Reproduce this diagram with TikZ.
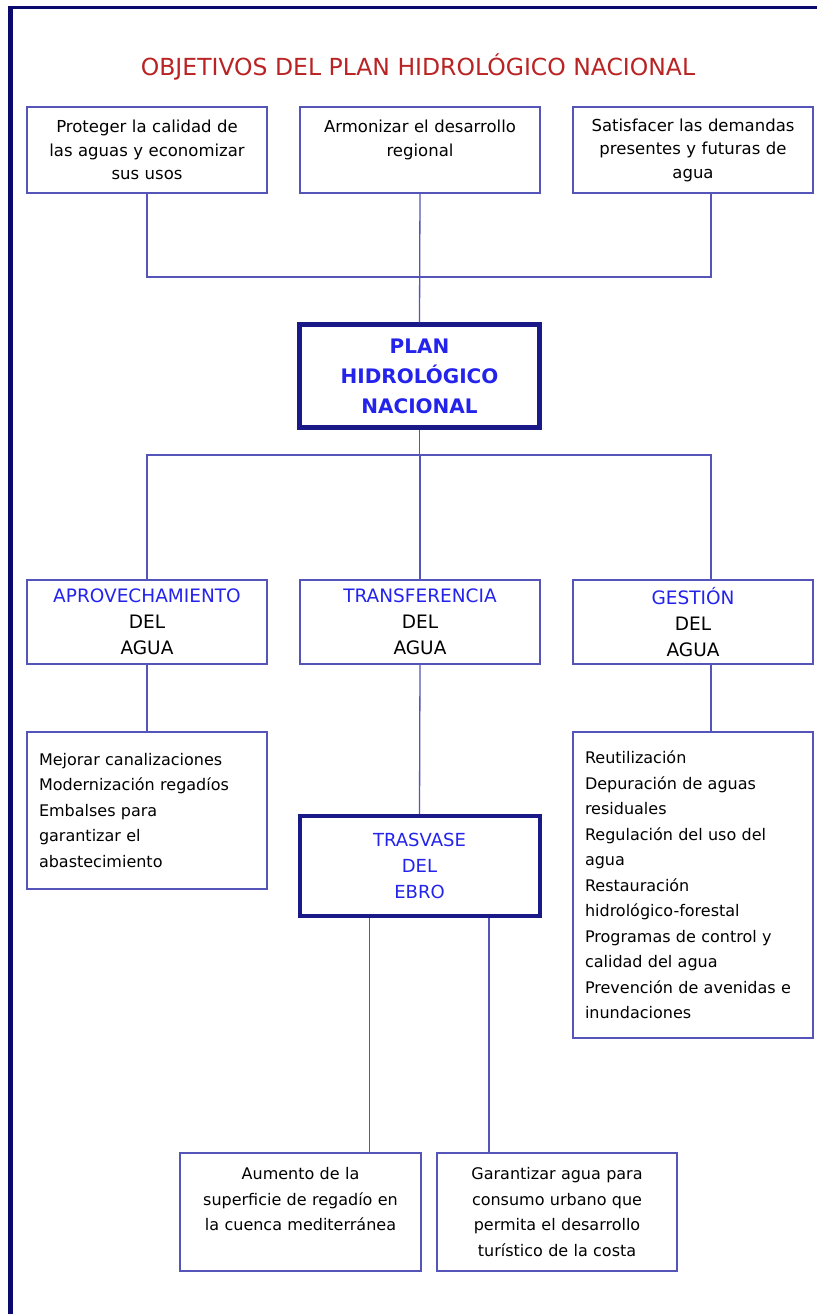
\documentclass[tikz,border=0pt]{standalone}
\usepackage{fontspec}
\setmainfont{DejaVu Sans}
\usepackage{tikz}
\usetikzlibrary{positioning}
\definecolor{framenavy}{RGB}{10,10,110}
\definecolor{boxblue}{RGB}{85,85,185}
\definecolor{heavyblue}{RGB}{25,25,135}
\definecolor{titlered}{RGB}{185,35,35}
\definecolor{textblue}{RGB}{35,35,235}

\begin{document}
\begin{tikzpicture}[x=1pt,y=-1pt,
  box/.style={draw=boxblue, line width=1.5pt, minimum width=240pt,
    inner xsep=8pt, text width=224pt, align=center,
    font=\fontsize{16}{25.5}\selectfont},
  listbox/.style={box, align=left, inner xsep=12pt, text width=216pt},
  heavybox/.style={draw=heavyblue, line width=4.5pt, minimum width=240pt,
    align=center, text=textblue},
  conn/.style={draw=boxblue, line width=1.3pt}]
\useasboundingbox (0,0) rectangle (817,1314);
% Frame
\draw[framenavy, line width=5pt] (10.5,1314) -- (10.5,5.75);
\draw[framenavy, line width=3.5pt] (8,7.5) -- (817,7.5);
% Title
\node[titlered, font=\fontsize{23.5}{27}\selectfont] (title) at (418,67)
  {OBJETIVOS DEL PLAN HIDROLÓGICO NACIONAL};
% Objectives
\node[box, minimum height=86pt, font=\fontsize{16.5}{23.5}\selectfont] (o1) at (147,150)
  {Proteger la calidad de\\las aguas y economizar\\sus usos};
\node[box, minimum height=86pt, font=\fontsize{16.5}{23.5}\selectfont] (o2) at (420,150)
  {Armonizar el desarrollo\\regional\\\mbox{}};
\node[box, minimum height=86pt, font=\fontsize{16.5}{23.5}\selectfont] (o3) at (693,150)
  {Satisfacer las demandas\\presentes y futuras de\\agua};
% The plan
\node[heavybox, minimum height=103pt, font=\bfseries\fontsize{20}{30}\selectfont]
  (plan) at (419.5,376) {PLAN\\HIDROLÓGICO\\NACIONAL};
% Three lines of action
\foreach \n/\x/\t in {ap/147/APROVECHAMIENTO, tr/420/TRANSFERENCIA, ge/693/GESTIÓN} {
  \node[box, minimum height=84pt, font=\fontsize{18.5}{26}\selectfont] (\n) at (\x,622)
    {{\color{textblue}\t}\\DEL\\AGUA};
}
\node[listbox, minimum height=157pt] (lista) at (147,810.5)
  {Mejorar canalizaciones\\Modernización regadíos\\Embalses para\\garantizar el\\abastecimiento};
\node[heavybox, line width=4pt, minimum height=100pt, font=\fontsize{18}{26}\selectfont]
  (trasvase) at (419.5,866) {TRASVASE\\DEL\\EBRO};
\node[listbox, minimum height=306pt] (listg) at (693,885)
  {Reutilización\\Depuración de aguas\\residuales\\Regulación del uso del\\agua\\Restauración\\hidrológico-forestal\\Programas de control y\\calidad del agua\\Prevención de avenidas e\\inundaciones};
% Ebro transfer goals
\node[box, minimum width=241pt, minimum height=118pt] (aum) at (300.5,1212)
  {Aumento de la\\superficie de regadío en\\la cuenca mediterránea\\\mbox{}};
\node[box, minimum width=240pt, minimum height=118pt] (gar) at (557,1212)
  {Garantizar agua para\\consumo urbano que\\permita el desarrollo\\turístico de la costa};
% Connectors
\coordinate (bus1) at (420,277);
\coordinate (bus2) at (420,455);
\coordinate (otop) at ([xshift=18pt]o3.south);
\coordinate (gtop) at ([xshift=18pt]ge.north);
\coordinate (gbot) at ([xshift=18pt]ge.south);
\coordinate (abot) at ([xshift=69pt]aum.north);
\coordinate (gabot) at ([xshift=-68pt]gar.north);
\draw[conn] (o1.south) -- (o1.south |- bus1) -- (otop |- bus1) -- (otop);
\draw[conn] (o2.south) -- (plan.north);
\draw[conn] (plan.south) -- (plan.south |- bus2);
\draw[conn] (ap.north) -- (ap.north |- bus2) -- (gtop |- bus2) -- (gtop);
\draw[conn] (tr.north) -- (tr.north |- bus2);
\draw[conn] (ap.south) -- (lista.north);
\draw[conn] (tr.south) -- (trasvase.north);
\draw[conn] (gbot) -- (gbot |- listg.north);
\draw[conn] (abot) -- (abot |- trasvase.south);
\draw[conn] (gabot) -- (gabot |- trasvase.south);
\end{tikzpicture}
\end{document}
